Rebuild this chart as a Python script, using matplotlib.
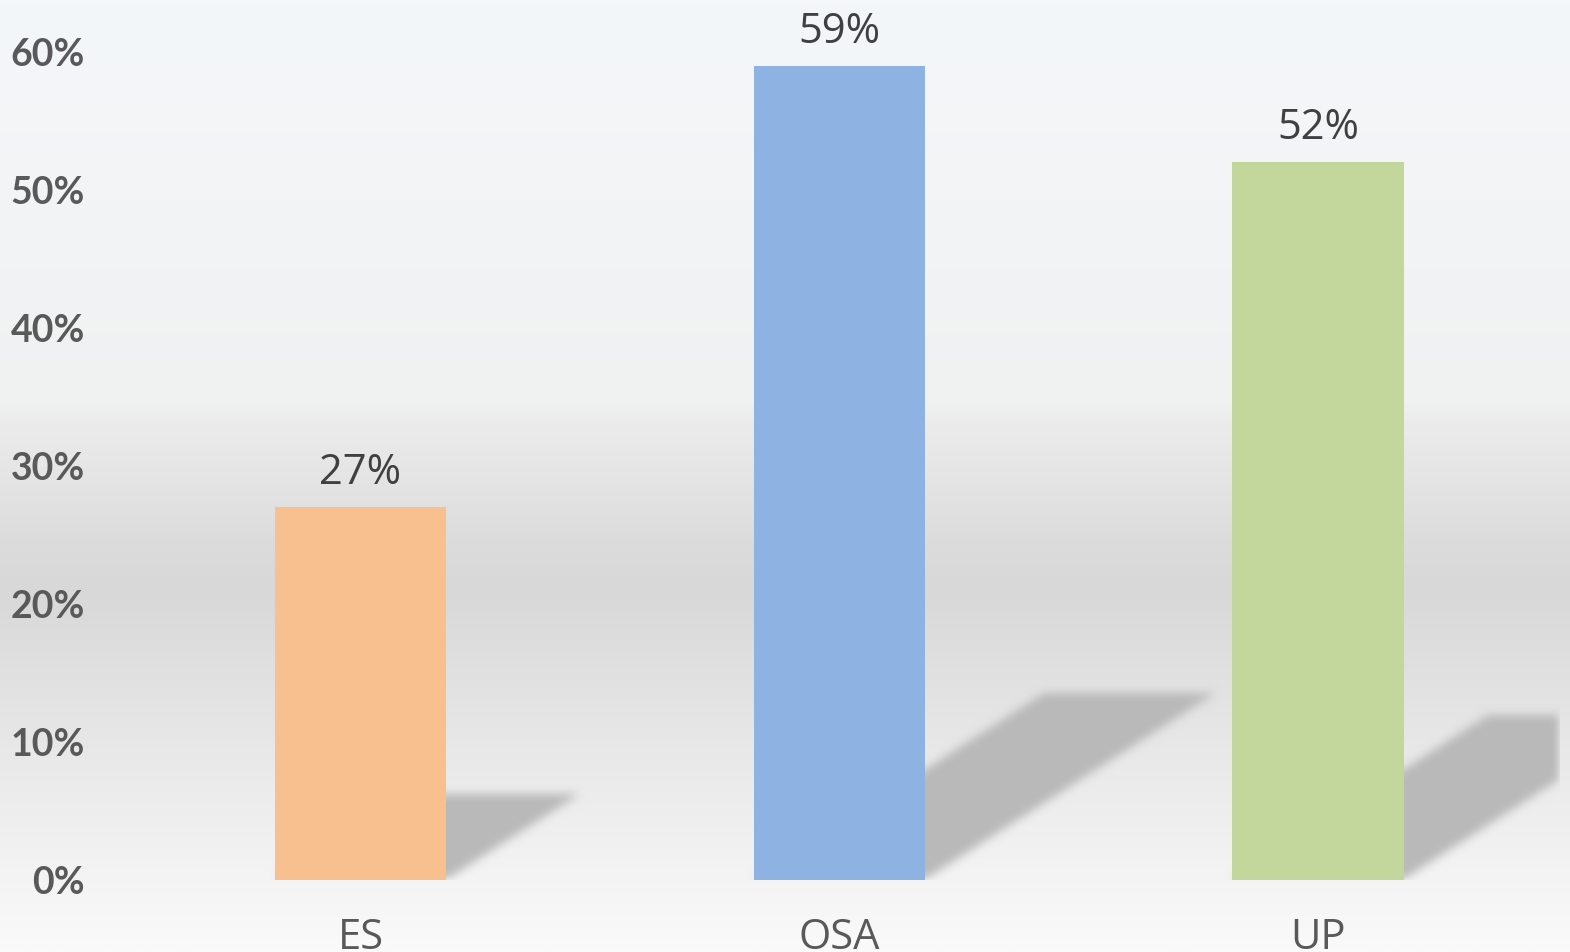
# Bar chart with soft shadows and gradient background
import numpy as np
import matplotlib
matplotlib.use('Agg')
import matplotlib.pyplot as plt
from matplotlib.colors import LinearSegmentedColormap, to_rgb

# data
categories = ['ES', 'OSA', 'UP']
values = [27, 59, 52]
bar_colors = ['#f9c08f', '#8eb3e2', '#c3d69b']
y_ticks = [0, 10, 20, 30, 40, 50, 60]
y_tick_labels = ['0%', '10%', '20%', '30%', '40%', '50%', '60%']

W, H, DPI = 1570, 952, 100
fig = plt.figure(figsize=(W / DPI, H / DPI), dpi=DPI)

# background gradient (figure-wide)
bg = fig.add_axes([0, 0, 1, 1], zorder=-10)
stops = [(0.0, '#f4f7fa'), (200 / H, '#f3f4f6'), (400 / H, '#f0f1f1'),
         (425 / H, '#ebebeb'), (476 / H, '#e5e5e5'), (540 / H, '#dcdcdc'),
         (590 / H, '#d8d8d8'), (650 / H, '#dedede'), (750 / H, '#e8e8e8'),
         (850 / H, '#f1f1f1'), (1.0, '#fafafa')]
cmap_bg = LinearSegmentedColormap.from_list('bg', stops)
grad = np.linspace(0, 1, 512).reshape(-1, 1)
bg.imshow(grad, cmap=cmap_bg, aspect='auto', extent=(0, 1, 0, 1), origin='upper')
bg.set_axis_off()

# main axes
ax = fig.add_axes([0, 72 / H, 1560 / W, 880 / H])
ax.patch.set_alpha(0)
x = np.arange(len(categories))
ymax = 880 / 13.8
step = 478.7
xlim = (-360.5 / step, (1560 - 360.5) / step)
ax.set_xlim(*xlim)
ax.set_ylim(0, ymax)
bar_w = 0.358

# shadows: sheared copy of each bar, blurred
nx, ny = 1560, 880
xs = np.linspace(xlim[0], xlim[1], nx)
ys = np.linspace(ymax, 0, ny)
XX, YY = np.meshgrid(xs, ys)
mask = np.zeros((ny, nx))
h_ratio = 0.229
shift = 0.0449  # x shift (data) per % of shadow height
for xi, v in zip(x, values):
    sh = v * h_ratio
    left = xi - bar_w / 2 + shift * YY
    right = xi + bar_w / 2 + shift * YY
    inside = (YY >= 0) & (YY <= sh) & (XX >= left) & (XX <= right)
    mask[inside] = 1.0


def box_blur(a, r, axis):
    k = np.ones(2 * r + 1) / (2 * r + 1)
    return np.apply_along_axis(lambda m: np.convolve(m, k, mode='same'), axis, a)


for _ in range(3):
    mask = box_blur(mask, 4, 0)
    mask = box_blur(mask, 4, 1)

rgba = np.zeros((ny, nx, 4))
rgba[..., :3] = to_rgb('#b9b9b9')
rgba[..., 3] = np.clip(mask, 0, 1)
ax.imshow(rgba, extent=(xlim[0], xlim[1], 0, ymax), aspect='auto', zorder=1,
          interpolation='bilinear')

ax.bar(x, values, width=bar_w, color=bar_colors, zorder=3)

for xi, v in zip(x, values):
    ax.annotate(f'{v}%', (xi, v), xytext=(0, 16.5), textcoords='offset points',
                ha='center', va='baseline', fontsize=30, color='#404040',
                family='Open Sans')

ax.set_xticks(x)
ax.set_xticklabels(categories, fontsize=30, color='#595959', family='Open Sans')
ax.set_yticks(y_ticks)
ax.set_yticklabels(y_tick_labels, fontsize=27, color='#595959',
                   family='Lato', fontweight='bold')
ax.tick_params(axis='y', length=0, pad=-61)
ax.tick_params(axis='x', length=0, pad=26.5)
for s in ax.spines.values():
    s.set_visible(False)

fig.savefig('out.png', dpi=DPI)
